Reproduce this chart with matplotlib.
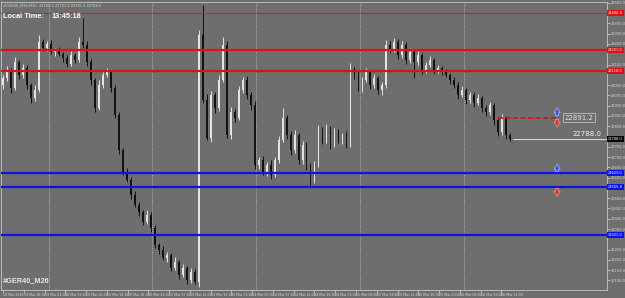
import matplotlib.pyplot as plt
import matplotlib.transforms as mtransforms
import numpy as np

# closes of the bars, left to right (GER40, intraday)
closes = [23084, 23123, 23036, 23162, 23099, 23133, 23050, 22987, 23026, 23259,
          23230, 23250, 23211, 23221, 23201, 23182, 23153, 23196, 23172, 23259,
          23245, 23162, 23075, 22939, 23050, 23099, 23114, 23036, 22905, 22735,
          22628, 22589, 22516, 22467, 22433, 22385, 22419, 22356, 22273, 22249,
          22210, 22224, 22161, 22190, 22127, 22161, 22103, 22142, 22093, 23293,
          22978, 22793, 23002, 22939, 23075, 23245, 22807, 22919, 22890, 23026,
          23075, 23002, 22953, 22662, 22686, 22628, 22662, 22613, 22686, 22783,
          22890, 22807, 22735, 22807, 22686, 22759, 22662, 22589, 22662, 22832,
          22783, 22841, 22759, 22822, 22783, 22807, 22759, 23123, 23099, 23036,
          23075, 23114, 23050, 23084, 23026, 23050, 23245, 23221, 23259, 23196,
          23245, 23172, 23211, 23162, 23196, 23123, 23148, 23172, 23123, 23133,
          23114, 23099, 23075, 23050, 23002, 23026, 22978, 23002, 22963, 22987,
          22939, 22919, 22953, 22880, 22822, 22890, 22807, 22788.0]
first_open = 23050
upper_wick = [15, 20, 12, 25, 10, 18, 14, 10, 22, 34,
              15, 12, 20, 10, 14, 8, 12, 18, 10, 25,
              117, 20, 15, 10, 25, 15, 20, 10, 12, 15,
              10, 18, 12, 20, 15, 10, 25, 12, 15, 10,
              20, 15, 10, 22, 12, 18, 10, 20, 15, 25,
              146, 30, 20, 15, 25, 39, 20, 25, 15, 20,
              15, 20, 12, 18, 15, 20, 12, 25, 15, 20,
              49, 15, 20, 25, 12, 20, 15, 10, 20, 25,
              15, 20, 12, 18, 15, 10, 20, 34, 15, 20,
              12, 18, 15, 20, 12, 15, 25, 20, 20, 15,
              20, 12, 18, 15, 20, 12, 15, 20, 10, 15,
              12, 15, 10, 12, 15, 20, 10, 15, 12, 20,
              10, 12, 15, 10, 12, 20, 10, 8]
lower_wick = [20, 12, 25, 10, 18, 15, 20, 25, 15, 10,
              12, 15, 10, 18, 12, 20, 15, 10, 14, 12,
              15, 20, 25, 20, 12, 15, 10, 20, 15, 20,
              15, 12, 18, 10, 20, 15, 12, 18, 15, 20,
              12, 18, 15, 10, 20, 12, 18, 15, 12, 24,
              15, 10, 20, 25, 15, 12, 15, 20, 18, 12,
              15, 20, 25, 18, 22, 15, 20, 18, 12, 15,
              12, 20, 25, 15, 20, 18, 25, 39, 15, 12,
              18, 15, 20, 12, 15, 20, 15, 12, 18, 15,
              20, 12, 18, 15, 20, 25, 12, 15, 10, 18,
              12, 20, 15, 80, 12, 20, 15, 10, 18, 12,
              15, 12, 18, 15, 20, 12, 18, 15, 20, 12,
              18, 20, 15, 22, 18, 15, 20, 12]

red_levels = [23221, 23118]
top_level = 23400
blue_levels = [22623, 22555, 22321]
pending_price = 22891.2
current_price = 22788.0
pending_start_bar = 124

time_labels = ["19 Mar 2026", "19 Mar 18:00", "19 Mar 22:00", "20 Mar 06:00", "20 Mar 10:00",
               "20 Mar 14:00", "20 Mar 18:00", "20 Mar 22:00", "23 Mar 07:00", "23 Mar 11:00",
               "23 Mar 15:00", "23 Mar 19:00", "24 Mar 03:00", "24 Mar 07:00", "24 Mar 11:00",
               "24 Mar 15:00", "24 Mar 19:00", "25 Mar 04:00", "25 Mar 08:00", "25 Mar 12:00",
               "25 Mar 16:00", "25 Mar 20:00", "26 Mar 04:00", "26 Mar 08:00", "26 Mar 12:00"]
label_step = 5.2   # bars between time labels

bg = '#6e6e6e'
fig = plt.figure(figsize=(6.25, 2.98), dpi=100, facecolor=bg)
ax = fig.add_axes([0.0016, 0.027, 0.9696, 0.9664], facecolor=bg)

closes = np.array(closes, dtype=float)
opens = np.concatenate([[first_open], closes[:-1]])
highs = np.maximum(opens, closes) + np.array(upper_wick)
lows = np.minimum(opens, closes) - np.array(lower_wick)
x = np.arange(len(closes))
up = closes >= opens

ax.vlines(x[up], lows[up], highs[up], color='#e4e4e4', lw=0.7, zorder=3)
ax.vlines(x[~up], lows[~up], highs[~up], color='#111111', lw=0.7, zorder=3)
ax.bar(x[up], (closes - opens)[up], bottom=opens[up], width=0.45, color='#e4e4e4', zorder=4)
ax.bar(x[~up], (opens - closes)[~up], bottom=closes[~up], width=0.45, color='#111111', zorder=4)

# vertical dotted grid
label_pos = np.arange(len(time_labels)) * label_step
for gx in label_pos[2::5]:
    ax.axvline(gx + 1, color='#c8c8c8', lw=0.6, ls=(0, (1, 1.5)), zorder=1)

# horizontal levels
ax.axhline(top_level, color='#d02020', lw=0.8, zorder=5)
for lv in red_levels:
    ax.axhline(lv, color='#e01010', lw=1.6, zorder=5)
for lv in blue_levels:
    ax.axhline(lv, color='#0a14e6', lw=1.6, zorder=5)

ax.set_xlim(-0.5, 151.25)
ax.set_ylim(22054, 23454)

# pending order line and current price
ax.plot([pending_start_bar, 139], [pending_price, pending_price], color='#e01010', lw=1.2,
        ls=(0, (3, 1.5)), zorder=6)
ax.plot([127.6, 151.25], [current_price, current_price], color='#f0f0f0', lw=0.6, zorder=6)
ax.text(150, current_price + 8, f"{current_price:.1f}", color='#f0f0f0', fontsize=5,
        ha='right', va='bottom', zorder=7)
ax.text(140.6, pending_price, f"{pending_price:.1f}", color='#e0e0e0', fontsize=5,
        ha='left', va='center', zorder=7,
        bbox=dict(boxstyle='square,pad=0.2', fc=bg, ec='#bdbdbd', lw=0.6))


# arrows of the order levels
def arrow(xb, y0, y1, color):
    ax.annotate('', xy=(xb, y1), xytext=(xb, y0), zorder=8,
                arrowprops=dict(arrowstyle='simple,head_width=0.45,head_length=0.35,tail_width=0.22',
                                fc=color, ec='#c8c8ff' if color.startswith('#3') else '#ffb0b0',
                                lw=0.4, shrinkA=0, shrinkB=0))


arrow(138.75, pending_price + 10, pending_price + 48, '#3a50ff')
arrow(138.75, pending_price - 8, pending_price - 45, '#e03030')
arrow(138.75, blue_levels[0] + 8, blue_levels[0] + 42, '#3a50ff')
arrow(138.75, blue_levels[1] - 8, blue_levels[1] - 45, '#e03030')

# right price axis
levels = [top_level] + red_levels + blue_levels + [current_price]
ticks = [v for v in np.arange(22100, 23451, 50) if min(abs(v - lv) for lv in levels) > 22]
ax.yaxis.tick_right()
ax.set_yticks(ticks)
ax.set_yticklabels([f"{v:.1f}" for v in ticks])
ax.tick_params(axis='y', colors='#d8d8d8', labelsize=2.6, length=2, width=0.5, pad=0.8)

trans = mtransforms.blended_transform_factory(ax.transAxes, ax.transData)
for lv, fc in [(top_level, '#e01010')] + [(v, '#e01010') for v in red_levels] + \
        [(v, '#0a14e6') for v in blue_levels] + [(current_price, '#000000')]:
    ax.text(1.002, lv, f"{lv:.1f}", transform=trans, fontsize=2.6, color='#ffffff',
            va='center', ha='left', zorder=9, clip_on=False,
            bbox=dict(boxstyle='square,pad=0.3', fc=fc, ec='none'))

# time axis
ax.set_xticks(label_pos)
ax.set_xticklabels(time_labels)
for lab in ax.get_xticklabels():
    lab.set_horizontalalignment('left')
ax.tick_params(axis='x', colors='#d8d8d8', labelsize=2.3, length=2, width=0.5, pad=0.5)

for s in ax.spines.values():
    s.set_color('#c8c8c8')
    s.set_linewidth(0.6)

# chart texts
ax.text(0.004, 0.995, "#GER40_M26,M30  22785.0 22792.4 22781.3 22788.0", transform=ax.transAxes,
        fontsize=2.6, color='#d0d0d0', va='top', ha='left')
ax.text(0.004, 0.962, "Local Time:", transform=ax.transAxes, fontsize=5.3,
        fontweight='bold', family='Liberation Sans', color='white', va='top', ha='left', zorder=10)
ax.text(0.084, 0.962, "13:45:18", transform=ax.transAxes, fontsize=5.3,
        fontweight='bold', family='Liberation Sans', color='white', va='top', ha='left', zorder=10)
ax.text(0.003, 0.02, "#GER40_M26", transform=ax.transAxes, fontsize=5.3,
        fontweight='bold', family='Liberation Sans', color='#e8e8e8', va='bottom', ha='left',
        zorder=10)

fig.savefig('out.png', dpi=100, facecolor=bg)
